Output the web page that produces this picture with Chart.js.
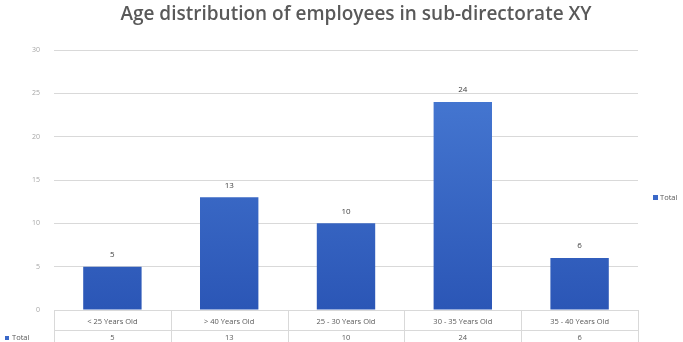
<!DOCTYPE html>
<html lang="en">

<head>
    <meta charset="UTF-8">
    <title>Age distribution</title>
    <script src="https://cdn.jsdelivr.net/npm/chart.js"></script>
    <style>
        html, body { margin: 0; padding: 0; background: #fff; }
        #box { width: 683px; height: 342px; }
    </style>
</head>

<body>
    <div id="box"><canvas id="chartIdade"></canvas></div>
</body>

<script>
    var categorias = ["< 25 Years Old", "> 40 Years Old", "25 - 30 Years Old", "30 - 35 Years Old", "35 - 40 Years Old"]
    var totais = [5, 13, 10, 24, 6]
    var serieNome = "Total"
    var tituloTexto = "Age distribution of employees in sub-directorate XY"

    var corTexto = '#595959'
    var corGrade = '#d9d9d9'

    function gradienteBarra(context) {
        var chart = context.chart
        var area = chart.chartArea
        if (!area) return '#3a68c8'
        var g = chart.ctx.createLinearGradient(0, area.top, 0, area.bottom)
        g.addColorStop(0, '#4a7dd6')
        g.addColorStop(1, '#2b56b6')
        return g
    }

    // titulo, rotulos, legenda e tabela de dados
    var extras = {
        id: 'extras',
        afterDatasetsDraw(chart) {
            var c = chart.ctx
            var area = chart.chartArea
            var x = chart.scales.x
            var meta = chart.getDatasetMeta(0)

            c.save()
            // titulo
            c.fillStyle = corTexto
            c.font = '600 19px "Open Sans"'
            c.textAlign = 'center'
            c.textBaseline = 'middle'
            c.fillText(tituloTexto, 356, 15)

            // rotulos das barras
            c.font = '8px "Open Sans"'
            c.fillStyle = '#404040'
            meta.data.forEach(function (bar, i) {
                c.fillText(totais[i], bar.x, bar.y - 12)
            })

            // tabela de dados
            var meio = area.bottom + 20
            c.strokeStyle = corGrade
            c.lineWidth = 1
            c.beginPath()
            c.moveTo(area.left, meio + 0.5)
            c.lineTo(area.right, meio + 0.5)
            for (var i = 0; i <= categorias.length; i++) {
                var px = Math.round(area.left + (area.right - area.left) * i / categorias.length) + 0.5
                c.moveTo(px, area.bottom)
                c.lineTo(px, chart.height)
            }
            c.stroke()

            c.font = '7.5px "Open Sans"'
            c.fillStyle = corTexto
            categorias.forEach(function (cat, i) {
                var px = x.getPixelForValue(i)
                c.fillText(cat, px, area.bottom + 12)
                c.fillText(totais[i], px, meio + 8)
            })

            c.textAlign = 'left'
            c.fillStyle = '#3a68c8'
            c.fillRect(5, meio + 6, 4, 4)
            c.fillRect(653, 195, 5, 5)
            c.fillStyle = corTexto
            c.fillText(serieNome, 12, meio + 8)
            c.fillText(serieNome, 660, 197.5)
            c.restore()
        }
    }

    var grafico = new Chart(document.getElementById('chartIdade').getContext('2d'), {
        type: 'bar',
        data: {
            labels: categorias,
            datasets: [{
                label: serieNome,
                data: totais,
                backgroundColor: gradienteBarra,
                barPercentage: 0.5,
                categoryPercentage: 1
            }]
        },
        options: {
            responsive: true,
            maintainAspectRatio: false,
            animation: false,
            layout: {
                padding: { top: 50, right: 45, bottom: 32, left: 0 }
            },
            plugins: {
                legend: { display: false },
                title: { display: false },
                tooltip: { enabled: false }
            },
            scales: {
                x: {
                    display: false
                },
                y: {
                    min: 0,
                    max: 30,
                    afterFit: function (scale) { scale.width = 54 },
                    ticks: {
                        stepSize: 5,
                        padding: 14,
                        color: '#a6a6a6',
                        font: { size: 7, family: '"Open Sans"' }
                    },
                    grid: { color: corGrade, drawTicks: false },
                    border: { display: false }
                }
            }
        },
        plugins: [extras]
    })
</script>

</html>
